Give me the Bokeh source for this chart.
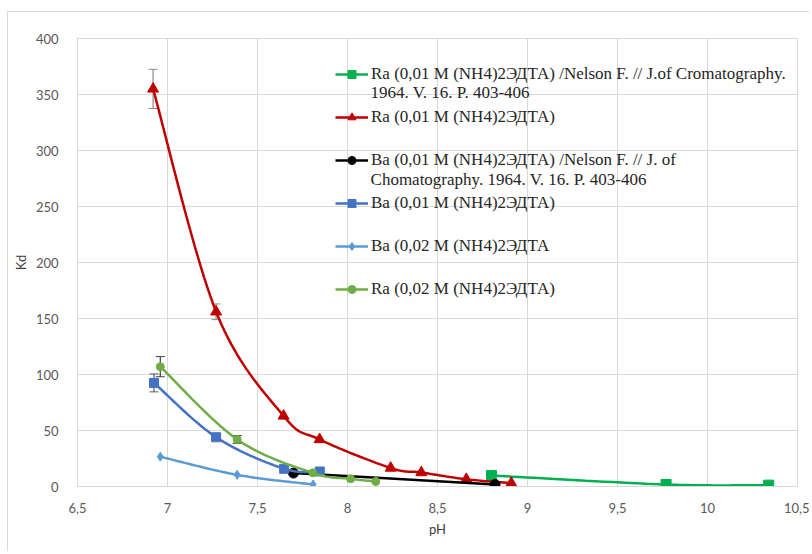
import numpy as np
from bokeh.plotting import figure
from bokeh.models import Range1d, FixedTicker, Legend, LegendItem, Whisker, ColumnDataSource, Label
from bokeh.embed import file_html
from bokeh.resources import INLINE

# ---- data ----
x_ticks = [6.5, 7, 7.5, 8, 8.5, 9, 9.5, 10, 10.5]
x_tick_labels = ["6,5", "7", "7,5", "8", "8,5", "9", "9,5", "10", "10,5"]
y_ticks = [0, 50, 100, 150, 200, 250, 300, 350, 400]

ra_nelson_ph = [8.80, 9.77, 10.34]
ra_nelson_kd = [9.8, 1.8, 1.2]

ra001_ph = [6.92, 7.27, 7.645, 7.845, 8.24, 8.41, 8.66, 8.91]
ra001_kd = [355, 156, 63, 42, 16.5, 12.5, 6.5, 3]
ra001_err = [17.5, 7, 0, 0, 0, 0, 0, 0]

ba_nelson_ph = [7.70, 8.82]
ba_nelson_kd = [12, 1.8]

ba001_ph = [6.925, 7.27, 7.648, 7.846]
ba001_kd = [92.5, 44, 15.8, 13.4]
ba001_err = [8, 0, 0, 0]

ba002_ph = [6.96, 7.387, 7.809]
ba002_kd = [26.6, 10.4, 1.8]

ra002_ph = [6.96, 7.387, 7.807, 8.017, 8.157]
ra002_kd = [107, 42, 12.2, 6.9, 4.5]
ra002_err = [9, 3.5, 0, 0, 0]

labels = [
    "Ra (0,01 M (NH4)2ЭДТА) /Nelson F. // J.of Cromatography.",
    "Ra (0,01 M (NH4)2ЭДТА)",
    "Ba (0,01 M (NH4)2ЭДТА) /Nelson F. // J. of",
    "Ba (0,01 M (NH4)2ЭДТА)",
    "Ba (0,02 M (NH4)2ЭДТА",
    "Ra (0,02 M (NH4)2ЭДТА)",
]
label_continuations = [
    "1964. V. 16. P. 403-406",
    None,
    "Chomatography.  1964. V. 16. P. 403-406",
    None,
    None,
    None,
]


def smooth(xs, ys, n=24):
    """Excel-like smoothed line (cubic Bezier through the points)."""
    x = np.asarray(xs, float)
    y = np.asarray(ys, float)
    if len(x) < 3:
        return x, y
    P = np.column_stack([x, y])
    Pe = np.vstack([P[0], P, P[-1]])
    out = []
    t = np.linspace(0, 1, n)[:, None]
    for i in range(len(P) - 1):
        p0 = Pe[i + 1]
        p3 = Pe[i + 2]
        c1 = p0 + (Pe[i + 2] - Pe[i]) / 6.0
        c2 = p3 - (Pe[i + 3] - Pe[i + 1]) / 6.0
        seg = ((1 - t) ** 3) * p0 + 3 * ((1 - t) ** 2) * t * c1 + 3 * (1 - t) * t ** 2 * c2 + t ** 3 * p3
        out.append(seg if i == 0 else seg[1:])
    S = np.vstack(out)
    return S[:, 0], S[:, 1]


p = figure(width=802, height=540, output_backend="svg", toolbar_location=None,
           x_range=Range1d(6.5, 10.5), y_range=Range1d(0, 400),
           min_border_left=69, min_border_right=13, min_border_top=26, min_border_bottom=66,
           margin=(11, 0, 0, 7))
p.styles = {"border-left": "1px solid #d9d9d9", "border-top": "1px solid #d9d9d9"}
p.outline_line_color = "#d9d9d9"
p.background_fill_color = "white"

for ax in (p.xaxis[0], p.yaxis[0]):
    ax.major_tick_line_color = None
    ax.minor_tick_line_color = None
    ax.axis_line_color = "#d9d9d9"
    ax.major_label_text_font = "Lato"
    ax.major_label_text_font_size = "13px"
    ax.major_label_text_color = "#595959"
    ax.axis_label_text_font = "Lato"
    ax.axis_label_text_font_size = "13px"
    ax.axis_label_text_font_style = "normal"
    ax.axis_label_text_color = "#404040"

p.xaxis.ticker = FixedTicker(ticks=x_ticks)
p.xaxis.major_label_overrides = {t: l for t, l in zip(x_ticks, x_tick_labels)}
p.yaxis.ticker = FixedTicker(ticks=y_ticks)
p.xaxis.axis_label = "pH"
p.yaxis.axis_label = "Kd"
p.xaxis.major_label_standoff = 10
p.xaxis.axis_label_standoff = 5
p.yaxis.major_label_standoff = 13
p.yaxis.axis_label_standoff = 4

p.xgrid.grid_line_color = "#d9d9d9"
p.ygrid.grid_line_color = "#d9d9d9"
p.xgrid.ticker = FixedTicker(ticks=x_ticks)
p.ygrid.ticker = FixedTicker(ticks=y_ticks)


def add_err(xs, ys, errs, color):
    sel = [i for i, e in enumerate(errs) if e > 0]
    src = ColumnDataSource(dict(x=[xs[i] for i in sel],
                                upper=[ys[i] + errs[i] for i in sel],
                                lower=[ys[i] - errs[i] for i in sel]))
    w = Whisker(source=src, base="x", upper="upper", lower="lower", dimension="height",
                line_color=color, line_width=1.2)
    w.upper_head.line_color = color
    w.lower_head.line_color = color
    w.upper_head.size = 9
    w.lower_head.size = 9
    p.add_layout(w)


series = [
    (ra_nelson_ph, ra_nelson_kd, "#00b050", "square", 10, 7),
    (ra001_ph, ra001_kd, "#c00000", "triangle", 11, 9),
    (ba_nelson_ph, ba_nelson_kd, "#000000", "circle", 10, 8),
    (ba001_ph, ba001_kd, "#4472c4", "square", 9, 7),
    (ba002_ph, ba002_kd, "#5b9bd5", "diamond", 9, 7),
    (ra002_ph, ra002_kd, "#70ad47", "circle", 8, 6),
]

add_err(ra001_ph, ra001_kd, ra001_err, "#8c8c8c")
add_err(ba001_ph, ba001_kd, ba001_err, "#595959")
add_err(ra002_ph, ra002_kd, ra002_err, "#404040")

items = []
for (xs, ys, col, mk, sz, lsz), lab in zip(series, labels):
    sx, sy = smooth(xs, ys)
    p.line(sx, sy, line_color=col, line_width=2.5)
    p.scatter(xs, ys, marker=mk, size=sz, fill_color=col, line_color=col)
    # legend-only renderers (smaller legend markers, as in the original)
    lr = p.line([np.nan], [np.nan], line_color=col, line_width=2.5)
    sr = p.scatter([np.nan], [np.nan], marker=mk, size=lsz, fill_color=col, line_color=col)
    items.append(LegendItem(label=lab, renderers=[lr, sr]))

LEG_FONT = "Liberation Serif"
LEG_SIZE = "17px"
legend = Legend(items=items, location=(258, 187), orientation="vertical",
                label_text_font=LEG_FONT, label_text_font_size=LEG_SIZE,
                label_text_color="#262626",
                background_fill_alpha=0, border_line_color=None,
                glyph_width=33, glyph_height=20, label_height=20,
                label_standoff=3, spacing=23, padding=0, margin=0)
p.add_layout(legend)

# second lines of the two-line legend entries
cont_x = 8.128
cont_y = [351.7, None, 273.8, None, None, None]
for txt, yy in zip(label_continuations, cont_y):
    if txt:
        p.add_layout(Label(x=cont_x, y=yy, text=txt, text_font=LEG_FONT,
                           text_font_size=LEG_SIZE, text_color="#262626",
                           text_baseline="middle", text_align="left"))

open("out.html", "w").write(file_html(p, INLINE))
